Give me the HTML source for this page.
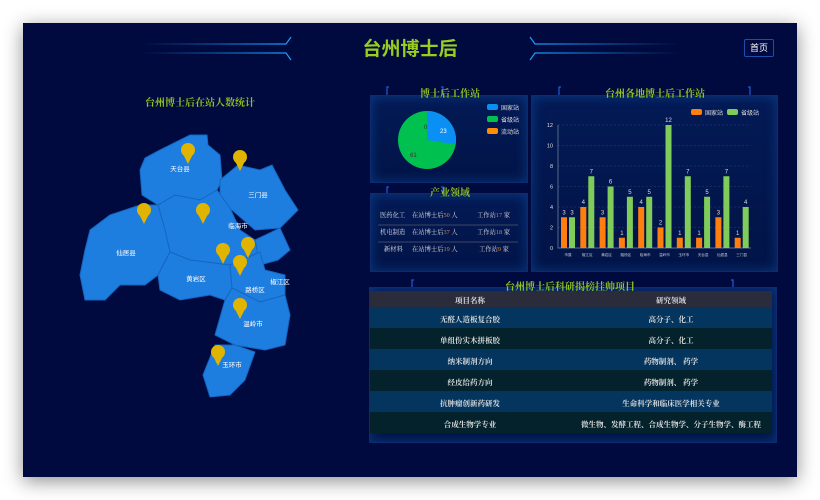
<!DOCTYPE html>
<html><head><meta charset="utf-8"><style>
body{margin:0;width:820px;height:500px;background:#fff;position:relative;overflow:hidden;font-family:"Liberation Serif","Noto Serif CJK SC",serif}
.bg{position:absolute;left:23px;top:23px;width:774px;height:454px;background:#000a3f;box-shadow:0 4px 18px rgba(0,0,0,.45)}
.abs{position:absolute}
.panel{position:absolute;background:linear-gradient(#031a55,#021448);box-shadow:inset 0 0 12px rgba(30,120,220,.35);border:1px solid #0a2c70}
.t{position:absolute;color:#8fc31f;font-weight:bold;text-align:center;font-size:10px}
.br{position:absolute;height:9px;border:1.5px solid #1a5fd0;width:4px}
.row{position:absolute;left:370px;width:402px;height:21px;font-size:7.5px;color:#ddd;font-weight:bold}
.row span{position:absolute;top:7px;text-align:center}
</style></head><body>
<div class="bg"></div>
<svg class="abs" style="left:0;top:0" width="820" height="500">
<defs><linearGradient id="lg" x1="0" x2="1"><stop offset="0" stop-color="#1aa0ff" stop-opacity="0"/><stop offset="1" stop-color="#1aa0ff"/></linearGradient>
<linearGradient id="rg" x1="0" x2="1"><stop offset="0" stop-color="#1aa0ff"/><stop offset="1" stop-color="#1aa0ff" stop-opacity="0"/></linearGradient></defs>
<path d="M140 44H286L291 37M140 53H286L291 60" stroke="url(#lg)" fill="none" stroke-width="1.2"/>
<path d="M530 37L535 44H680M530 60L535 53H680" stroke="url(#rg)" fill="none" stroke-width="1.2"/>
<g stroke="#1a5fd0" stroke-width="1.2" fill="none">
<path d="M389 87h-2v9h2M441 87h2v9h-2M389 187h-2v9h2M441 187h2v9h-2M561 87h-2v9h2M748 87h2v9h-2M414 280h-2v9h2M731 280h2v9h-2"/></g>
</svg>
<div class="abs" style="left:340px;top:34px;width:140px;text-align:center;color:#9acd1f;font-size:19px;font-weight:bold;font-family:'Liberation Sans','Noto Sans CJK SC',sans-serif">台州博士后</div>
<div class="abs" style="left:744px;top:39px;width:28px;height:16px;border:1px solid #1a4fb0;border-radius:2px;color:#fff;font-size:9px;line-height:16px;text-align:center;font-family:'Liberation Sans','Noto Sans CJK SC',sans-serif">首页</div>

<div class="t" style="left:120px;top:94px;width:160px">台州博士后在站人数统计</div>
<svg class="abs" style="left:60px;top:90px" width="270" height="320">
<g fill="#1e7ee0" stroke="#1566c0" stroke-width="1">
<path d="M100 60L130 45L147 45L148 55L160 65L162 90L157 100L140 110L115 105L98 115L82 105L80 80L85 68Z"/>
<path d="M160 90L178 75L200 80L212 75L225 100L238 120L220 138L195 140L172 120L160 115Z"/>
<path d="M98 115L115 105L140 110L157 100L170 118L180 140L195 150L200 162L170 175L130 170L110 162L105 140Z"/>
<path d="M30 140L50 125L80 115L98 115L105 140L110 162L98 185L85 195L60 195L45 210L25 210L20 185L25 160Z"/>
<path d="M195 150L220 138L230 160L218 170L200 175Z"/>
<path d="M110 162L130 170L170 175L172 198L165 210L150 205L120 210L100 200L98 185Z"/>
<path d="M170 175L200 162L205 180L225 185L225 205L200 212L172 198Z"/>
<path d="M165 210L172 198L200 212L225 205L230 225L225 255L205 260L175 255L155 245Z"/>
<path d="M155 255L175 255L195 262L185 290L170 305L150 307L143 285Z"/>
</g>
<g fill="#e0b400">
<g transform="translate(128,68)"><circle r="7" cy="-8"/><path d="M-5-4L0 6L5-4Z"/></g>
<g transform="translate(180,75)"><circle r="7" cy="-8"/><path d="M-5-4L0 6L5-4Z"/></g>
<g transform="translate(84,128)"><circle r="7" cy="-8"/><path d="M-5-4L0 6L5-4Z"/></g>
<g transform="translate(143,128)"><circle r="7" cy="-8"/><path d="M-5-4L0 6L5-4Z"/></g>
<g transform="translate(163,168)"><circle r="7" cy="-8"/><path d="M-5-4L0 6L5-4Z"/></g>
<g transform="translate(188,162)"><circle r="7" cy="-8"/><path d="M-5-4L0 6L5-4Z"/></g>
<g transform="translate(180,180)"><circle r="7" cy="-8"/><path d="M-5-4L0 6L5-4Z"/></g>
<g transform="translate(180,223)"><circle r="7" cy="-8"/><path d="M-5-4L0 6L5-4Z"/></g>
<g transform="translate(158,270)"><circle r="7" cy="-8"/><path d="M-5-4L0 6L5-4Z"/></g>
</g>
<g fill="#fff" font-size="6.5" text-anchor="middle" font-family="Liberation Sans,Noto Sans CJK SC">
<text x="120" y="81">天台县</text><text x="198" y="107">三门县</text><text x="178" y="138">临海市</text>
<text x="66" y="165">仙居县</text><text x="136" y="191">黄岩区</text><text x="195" y="202">路桥区</text>
<text x="220" y="194">椒江区</text><text x="193" y="236">温岭市</text><text x="172" y="277">玉环市</text></g>
</svg>

<div class="panel" style="left:370px;top:95px;width:156px;height:86px"></div>
<div class="t" style="left:400px;top:85px;width:100px">博士后工作站</div>
<svg class="abs" style="left:370px;top:93px" width="157" height="88">
<circle cx="57" cy="47" r="29" fill="#00c050"/>
<path d="M57 47V18A29 29 0 0 1 85.7 51.4Z" fill="#0a8ff5"/>
<text x="70" y="40" font-size="6" fill="#fff" font-family="Liberation Sans">23</text>
<text x="54" y="36" font-size="6" fill="#333" font-family="Liberation Sans">0</text>
<text x="40" y="64" font-size="6" fill="#333" font-family="Liberation Sans">61</text>
<g font-size="6" fill="#ddd" font-family="Liberation Sans,Noto Sans CJK SC">
<rect x="117" y="11" width="11" height="6" rx="2" fill="#0a8ff5"/><text x="131" y="17">国家站</text>
<rect x="117" y="23" width="11" height="6" rx="2" fill="#00c050"/><text x="131" y="29">省级站</text>
<rect x="117" y="35" width="11" height="6" rx="2" fill="#ff8c00"/><text x="131" y="41">流动站</text></g>
</svg>

<div class="panel" style="left:370px;top:193px;width:156px;height:77px"></div>
<div class="t" style="left:400px;top:184px;width:100px">产业领域</div>
<svg class="abs" style="left:370px;top:191px" width="157" height="80">
<g font-size="6.3" fill="#ddd" font-family="Liberation Serif,Noto Serif CJK SC">
<text x="10" y="26">医药化工</text><text x="42" y="26">在站博士后<tspan fill="#e08030">50</tspan> 人</text><text x="107" y="26">工作站<tspan fill="#e08030">17</tspan> 家</text>
<text x="10" y="43">机电制造</text><text x="42" y="43">在站博士后<tspan fill="#e08030">37</tspan> 人</text><text x="107" y="43">工作站<tspan fill="#e08030">18</tspan> 家</text>
<text x="14" y="60">新材料</text><text x="42" y="60">在站博士后<tspan fill="#e08030">19</tspan> 人</text><text x="109" y="60">工作站<tspan fill="#e08030">9</tspan> 家</text></g>
<path d="M8 34H148M8 51H148" stroke="#556" stroke-width="0.7"/>
</svg>

<div class="panel" style="left:531px;top:95px;width:245px;height:175px"></div>
<div class="t" style="left:590px;top:85px;width:130px">台州各地博士后工作站</div>
<svg class="abs" style="left:531px;top:93px" width="246" height="178" font-family="Liberation Sans,Noto Sans CJK SC">
<rect x="160" y="16" width="11" height="6" rx="2" fill="#ff7f0e"/><text x="174" y="22" font-size="6" fill="#ddd">国家站</text>
<rect x="196" y="16" width="11" height="6" rx="2" fill="#7fcc5a"/><text x="210" y="22" font-size="6" fill="#ddd">省级站</text>
<g stroke="#2a3f70" stroke-dasharray="2,2" stroke-width="0.6">
<path d="M27 32H220M27 52.5H220M27 73H220M27 93.5H220M27 114H220M27 134.5H220"/></g>
<path d="M27 32V155H220" stroke="#7a8aa0" stroke-width="0.7" fill="none"/>
<g font-size="5.5" fill="#ddd" text-anchor="end"><text x="22" y="157">0</text><text x="22" y="136.5">2</text><text x="22" y="116">4</text><text x="22" y="95.5">6</text><text x="22" y="75">8</text><text x="22" y="54.5">10</text><text x="22" y="34">12</text></g>
<g id="bars"></g>
</svg>

<div class="panel" style="left:369px;top:287px;width:406px;height:154px"></div>
<div class="t" style="left:470px;top:278px;width:200px">台州博士后科研揭榜挂帅项目</div>
<div class="row" style="top:291px;height:16px;background:#2a2c3c"><span style="left:0;width:200px;top:4px">项目名称</span><span style="left:200px;width:202px;top:4px">研究领域</span></div>
<div class="row" style="top:307px;background:#04355e"><span style="left:0;width:200px">无醛人造板复合胶</span><span style="left:200px;width:202px">高分子、化工</span></div>
<div class="row" style="top:328px;background:#04222c"><span style="left:0;width:200px">单组份实木拼板胶</span><span style="left:200px;width:202px">高分子、化工</span></div>
<div class="row" style="top:349px;background:#04355e"><span style="left:0;width:200px">纳米制剂方向</span><span style="left:200px;width:202px">药物制剂、 药学</span></div>
<div class="row" style="top:370px;background:#04222c"><span style="left:0;width:200px">经皮给药方向</span><span style="left:200px;width:202px">药物制剂、 药学</span></div>
<div class="row" style="top:391px;background:#04355e"><span style="left:0;width:200px">抗肿瘤创新药研发</span><span style="left:200px;width:202px">生命科学和临床医学相关专业</span></div>
<div class="row" style="top:412px;background:#04222c"><span style="left:0;width:200px">合成生物学专业</span><span style="left:200px;width:202px">微生物、发酵工程、合成生物学、分子生物学、酶工程</span></div>
<script>
var a=[3,4,3,1,4,2,1,1,3,1],b=[3,7,6,5,5,12,7,5,7,4],n=["市属","椒江区","黄岩区","路桥区","临海市","温岭市","玉环市","天台县","仙居县","三门县"],s="";
for(var i=0;i<10;i++){var x=27+i*19.3+3;
s+='<rect x="'+x+'" y="'+(155-a[i]*10.25)+'" width="6" height="'+a[i]*10.25+'" fill="#ff7f0e"/>';
s+='<rect x="'+(x+8)+'" y="'+(155-b[i]*10.25)+'" width="6" height="'+b[i]*10.25+'" fill="#7fcc5a"/>';
s+='<text x="'+(x+3)+'" y="'+(152-a[i]*10.25)+'" font-size="6" fill="#ddd" text-anchor="middle">'+a[i]+'</text>';
s+='<text x="'+(x+11)+'" y="'+(152-b[i]*10.25)+'" font-size="6" fill="#ddd" text-anchor="middle">'+b[i]+'</text>';
s+='<text x="'+(x+7)+'" y="163" font-size="3.6" fill="#ccc" text-anchor="middle">'+n[i]+'</text>';}
document.getElementById("bars").innerHTML=s;
</script>
</body></html>
